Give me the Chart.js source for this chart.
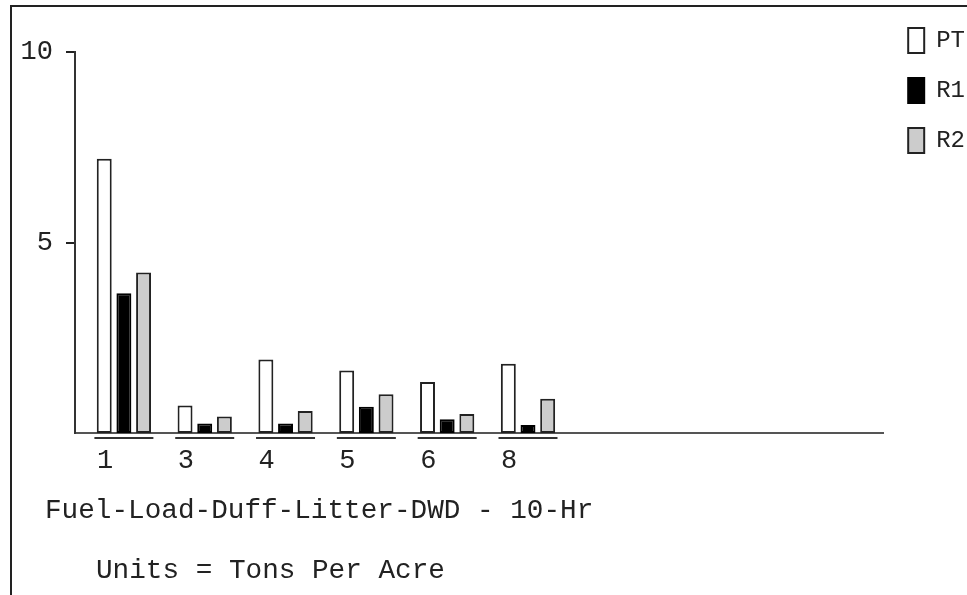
<!DOCTYPE html>
<html>
<head>
<meta charset="utf-8">
<script src="https://cdn.jsdelivr.net/npm/chart.js@4/dist/chart.umd.min.js"></script>
<style>
  html, body { margin: 0; padding: 0; background: #fff; }
  #myChart { display: block; }
</style>
</head>
<body>
<canvas id="myChart" width="967" height="595"></canvas>
<script>
const xLabels = ['1', '3', '4', '5', '6', '8'];
const ptValues = [7.2, 0.72, 1.93, 1.64, 1.34, 1.82];
const r1Values = [3.67, 0.25, 0.25, 0.69, 0.36, 0.21];
const r2Values = [4.21, 0.43, 0.58, 1.02, 0.50, 0.90];
const yTicks = [5, 10];
const captionLines = ['Fuel-Load-Duff-Litter-DWD - 10-Hr', 'Units = Tons Per Acre'];

const FONT = "'Liberation Mono', monospace";
const CAT_PCT = 0.73;

window.onload = function () {
    Chart.defaults.font.family = FONT;
    Chart.defaults.font.size = 27;
    Chart.defaults.color = '#222';

    const toPoints = vals => vals.map((v, i) => ({ x: i, y: v }));

    // frame lines top + left
    const frame = {
        id: 'frame',
        beforeDraw(chart) {
            const ctx = chart.ctx;
            ctx.save();
            ctx.strokeStyle = '#222';
            ctx.lineWidth = 2;
            ctx.beginPath();
            ctx.moveTo(11, chart.height);
            ctx.lineTo(11, 6);
            ctx.lineTo(chart.width, 6);
            ctx.stroke();
            ctx.restore();
        }
    };

    // line under every group of bars
    const groupLines = {
        id: 'groupLines',
        afterDatasetsDraw(chart) {
            const x = chart.scales.x;
            const ctx = chart.ctx;
            const step = x.getPixelForValue(1) - x.getPixelForValue(0);
            const half = step * CAT_PCT / 2;
            const y = chart.chartArea.bottom + 5;
            ctx.save();
            ctx.strokeStyle = '#333';
            ctx.lineWidth = 2;
            xLabels.forEach((_, i) => {
                const c = x.getPixelForValue(i);
                ctx.beginPath();
                ctx.moveTo(c - half, y);
                ctx.lineTo(c + half, y);
                ctx.stroke();
            });
            ctx.restore();
        }
    };

    // two caption lines under the axis
    const captions = {
        id: 'captions',
        afterDraw(chart) {
            const ctx = chart.ctx;
            const bottom = chart.chartArea.bottom;
            ctx.save();
            ctx.fillStyle = '#222';
            ctx.font = '27.7px ' + FONT;
            ctx.fillText(captionLines[0], 45, bottom + 85);
            ctx.fillText(captionLines[1], 96, bottom + 145);
            ctx.restore();
        }
    };

    const options = {
        type: 'bar',
        data: {
            datasets: [{
                label: 'PT',
                data: toPoints(ptValues),
                backgroundColor: '#ffffff',
                borderColor: '#222',
                borderWidth: 2
            }, {
                label: 'R1',
                data: toPoints(r1Values),
                backgroundColor: '#000000',
                borderColor: '#000',
                borderWidth: 2
            }, {
                label: 'R2',
                data: toPoints(r2Values),
                backgroundColor: '#cccccc',
                borderColor: '#222',
                borderWidth: 2
            }]
        },
        options: {
            responsive: false,
            animation: false,
            devicePixelRatio: 1,
            categoryPercentage: CAT_PCT,
            barPercentage: 0.76,
            borderSkipped: false,
            layout: {
                padding: { left: 0, top: 3, right: -8, bottom: 0 }
            },
            plugins: {
                title: {
                    display: true,
                    text: '',
                    font: { size: 10, lineHeight: 1 },
                    padding: { top: 0, bottom: 39 }
                },
                legend: {
                    position: 'right',
                    align: 'start',
                    labels: {
                        boxWidth: 16,
                        boxHeight: 25,
                        padding: 25,
                        font: { size: 24 }
                    }
                },
                tooltip: { enabled: false }
            },
            scales: {
                x: {
                    type: 'linear',
                    offset: false,
                    min: -0.605,
                    max: 9.395,
                    grid: { display: false },
                    border: { color: '#555', width: 2 },
                    afterBuildTicks: s => { s.ticks = xLabels.map((_, i) => ({ value: i })); },
                    afterFit: s => { s.height = 162; },
                    ticks: {
                        align: 'start',
                        labelOffset: -27,
                        padding: 4,
                        font: { size: 27 },
                        callback: v => xLabels[v]
                    }
                },
                y: {
                    min: 0,
                    max: 10,
                    grid: {
                        drawOnChartArea: false,
                        tickLength: 9,
                        color: '#222',
                        lineWidth: 2
                    },
                    border: { color: '#333', width: 2 },
                    afterBuildTicks: s => { s.ticks = yTicks.map(v => ({ value: v })); },
                    afterFit: s => { s.width = 75; },
                    ticks: {
                        padding: 13,
                        font: { size: 27 }
                    }
                }
            }
        },
        plugins: [frame, groupLines, captions]
    };
    const ctx = document.getElementById('myChart');
    new Chart(ctx, options);
};
</script>
</body>
</html>
